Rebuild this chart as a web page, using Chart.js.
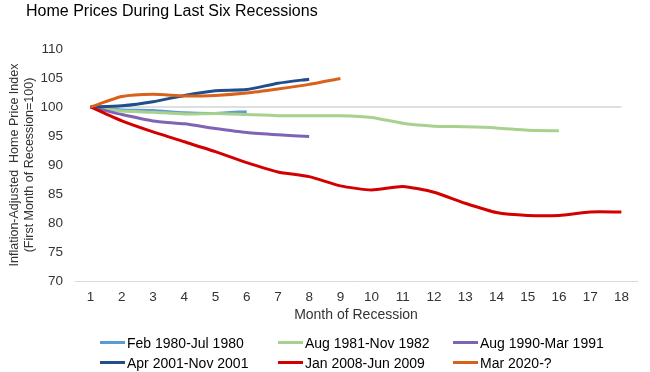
<!DOCTYPE html>
<html>
<head>
<meta charset="utf-8">
<script src="https://cdn.jsdelivr.net/npm/chart.js@4"></script>
<style>
  html, body { margin: 0; padding: 0; background: #fff; }
  #wrap { position: relative; width: 650px; height: 372px; font-family: Arial, "Liberation Sans", sans-serif; }
  #title { position: absolute; left: 26px; top: 2px; font-size: 16px; color: #000; white-space: nowrap; }
  #legend { position: absolute; left: 100px; top: 333px; display: grid; grid-template-columns: 178px 175px 180px; row-gap: 1px; font-size: 14px; color: #000; }
  .lg { display: flex; align-items: center; height: 19px; white-space: nowrap; }
  .lg i { display: inline-block; width: 25px; height: 3px; margin-right: 2px; }
</style>
</head>
<body>
<div id="wrap">
  <canvas id="chart" width="650" height="372"></canvas>
  <div id="title">Home Prices During Last Six Recessions</div>
  <div id="legend"></div>
</div>
<script>
const months = ['1','2','3','4','5','6','7','8','9','10','11','12','13','14','15','16','17','18'];
const yTicks = [70, 75, 80, 85, 90, 95, 100, 105, 110];

const names = ['Feb 1980-Jul 1980', 'Aug 1981-Nov 1982', 'Aug 1990-Mar 1991',
               'Apr 2001-Nov 2001', 'Jan 2008-Jun 2009', 'Mar 2020-?'];
const colors = ['#5b9bd5', '#a9d18e', '#8064b4', '#1f4e8c', '#d40000', '#d8621b'];

const feb1980 = [100, 99.5, 99.4, 99.0, 98.9, 99.2];
const aug1981 = [100, 99.3, 99.1, 98.8, 98.9, 98.7, 98.5, 98.5, 98.5, 98.2, 97.2, 96.7, 96.6, 96.4, 96.0, 95.9];
const aug1990 = [100, 98.7, 97.6, 97.1, 96.3, 95.6, 95.2, 94.9];
const apr2001 = [100, 100.2, 100.9, 102.0, 102.8, 103.0, 104.1, 104.8];
const jan2008 = [100, 97.6, 95.7, 94.0, 92.3, 90.4, 88.8, 88.0, 86.4, 85.7, 86.3, 85.3, 83.4, 81.8, 81.3, 81.3, 81.9, 81.9];
const mar2020 = [100, 101.8, 102.2, 101.9, 102.0, 102.4, 103.1, 103.9, 104.9];
const baseline = months.map(() => 100);

const seriesData = [feb1980, aug1981, aug1990, apr2001, jan2008, mar2020];

document.getElementById('legend').innerHTML = names.map((n, i) =>
  `<div class="lg"><i style="background:${colors[i]}"></i>${n}</div>`).join('');

const datasets = seriesData.map((d, i) => ({
  label: names[i],
  data: d,
  borderColor: colors[i],
  backgroundColor: colors[i],
  borderWidth: 3,
  pointRadius: 0,
  tension: 0.2,
  order: 10 - i,
}));
datasets.push({
  label: 'base',
  data: baseline,
  borderColor: '#d4d4d4',
  borderWidth: 1.5,
  pointRadius: 0,
  order: 20,
});

const tickColor = '#333';
const font = 'Arial, "Liberation Sans", sans-serif';

new Chart(document.getElementById('chart'), {
  type: 'line',
  data: { labels: months, datasets },
  options: {
    responsive: false,
    animation: false,
    devicePixelRatio: 1,
    layout: { padding: { left: 0, top: 49, right: 13, bottom: 46 } },
    plugins: {
      legend: { display: false },
      title: { display: false },
      tooltip: { enabled: false },
    },
    scales: {
      x: {
        offset: true,
        grid: { display: false, drawTicks: false },
        border: { display: true, color: '#d9d9d9', width: 1 },
        ticks: { color: tickColor, font: { family: font, size: 13.5 }, padding: 8, maxRotation: 0, autoSkip: false },
        title: { display: true, text: 'Month of Recession', color: tickColor, font: { family: font, size: 14 }, padding: { top: 0, bottom: 2 } },
        afterFit: s => { s.height = 45; },
      },
      y: {
        min: 70,
        max: 110,
        afterBuildTicks: s => { s.ticks = yTicks.map(v => ({ value: v })); },
        grid: { display: false, drawTicks: false },
        border: { display: false },
        ticks: { color: tickColor, font: { family: font, size: 13.5 }, padding: 12 },
        title: {
          display: true,
          text: ['Inflation-Adjusted  Home Price Index', '(First Month of Recession=100)'],
          color: tickColor,
          font: { family: font, size: 12.5, lineHeight: 1.2 },
          padding: { top: 7, bottom: 0 },
        },
        afterFit: s => { s.width = 75; },
      },
    },
  },
});
</script>
</body>
</html>
